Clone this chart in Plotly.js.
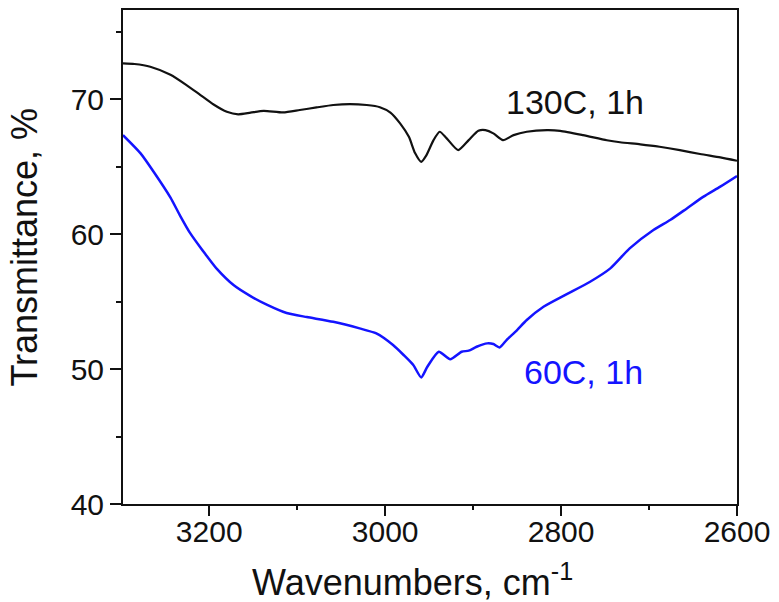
<!DOCTYPE html>
<html>
<head>
<meta charset="utf-8">
<script src="https://cdn.plot.ly/plotly-3.0.1.min.js"></script>
<style>
  html, body { margin: 0; padding: 0; background: #ffffff; }
  #chart { width: 779px; height: 602px; }
</style>
</head>
<body>
<div id="chart"></div>
<script>
// FTIR spectra in the C-H stretching region, two curing conditions
const wn130 = [3298, 3285, 3267, 3244, 3225, 3210, 3195, 3180, 3167, 3153, 3138, 3116, 3097, 3078,
  3059, 3040, 3021, 3006, 2994, 2983, 2973, 2966, 2959, 2953, 2945, 2938, 2930, 2917, 2905,
  2894, 2886, 2877, 2866, 2854, 2839, 2816, 2801, 2775, 2748, 2733, 2710, 2688, 2665, 2642,
  2619, 2600];
const t130 = [72.65, 72.6, 72.4, 71.8, 71.0, 70.3, 69.6, 69.06, 68.87, 68.99, 69.13, 69.01, 69.19, 69.38,
  69.56, 69.63, 69.56, 69.4, 69.0, 68.2, 67.2, 66.0, 65.35, 65.85, 66.96, 67.58, 67.09, 66.22, 66.96,
  67.65, 67.7, 67.46, 66.96, 67.33, 67.58, 67.7, 67.65, 67.33, 66.95, 66.8, 66.65, 66.47, 66.22, 65.93,
  65.68, 65.43];

const wn60 = [3298, 3278, 3263, 3244, 3233, 3222, 3210, 3203, 3191, 3172, 3153, 3134, 3112, 3089,
  3059, 3029, 3010, 2991, 2979, 2968, 2959, 2952, 2939, 2926, 2913, 2905, 2896, 2884, 2877,
  2870, 2862, 2850, 2839, 2820, 2794, 2767, 2744, 2722, 2695, 2676, 2657, 2638, 2619, 2600];
const t60 = [67.33, 65.98, 64.6, 62.7, 61.35, 60.1, 59.0, 58.4, 57.4, 56.2, 55.4, 54.75, 54.15, 53.85,
  53.5, 53.01, 52.64, 51.78, 51.04, 50.3, 49.38, 50.17, 51.28, 50.72, 51.28, 51.36, 51.65, 51.9, 51.85,
  51.6, 52.15, 52.89, 53.63, 54.61, 55.53, 56.47, 57.46, 58.94, 60.3, 61.04, 61.9, 62.77, 63.51,
  64.3];

const label130 = '130C, 1h';
const label60 = '60C, 1h';
const xTitle = 'Wavenumbers, cm<sup>-1</sup>';
const yTitle = 'Transmittance, %';

const FONT = 'Arial, "Liberation Sans", sans-serif';
const INK = '#111111';
const BLUE = 'rgb(20,20,255)';
const X_RANGE = [3298, 2600];

const traces = [
  {
    x: wn130, y: t130, type: 'scatter', mode: 'lines', name: label130,
    line: { color: INK, width: 2.2, shape: 'spline', smoothing: 0.6 }
  },
  {
    // same range as the main x axis; this axis carries the tick marks
    x: wn60, y: t60, xaxis: 'x2', type: 'scatter', mode: 'lines', name: label60,
    line: { color: BLUE, width: 2.5, shape: 'spline', smoothing: 0.6 }
  }
];

const tickFont = { family: FONT, size: 30, color: INK };

const layout = {
  width: 779, height: 602,
  margin: { l: 123, r: 42, t: 10, b: 98 },
  paper_bgcolor: '#ffffff', plot_bgcolor: '#ffffff',
  showlegend: false,
  // labelled x axis (frame line + numbers); its tick marks come from xaxis2
  xaxis: {
    range: X_RANGE, tick0: 2600, dtick: 200,
    showline: true, linecolor: INK, linewidth: 2, mirror: true,
    ticks: '', showgrid: false, zeroline: false,
    tickfont: tickFont
  },
  xaxis2: {
    range: X_RANGE, tick0: 2600, dtick: 200, overlaying: 'x', anchor: 'y', side: 'bottom',
    showline: false, showticklabels: false, showgrid: false, zeroline: false,
    ticks: 'outside', ticklen: 11, tickwidth: 2, tickcolor: INK,
    minor: { dtick: 100, ticks: 'outside', ticklen: 5, tickwidth: 2, tickcolor: INK }
  },
  yaxis: {
    range: [40, 76.6], tick0: 40, dtick: 10,
    showline: true, linecolor: INK, linewidth: 2, mirror: true,
    ticks: 'outside', ticklen: 11, tickwidth: 2, tickcolor: INK,
    showgrid: false, zeroline: false,
    tickfont: tickFont,
    minor: { dtick: 5, ticks: 'outside', ticklen: 5, tickwidth: 2, tickcolor: INK }
  },
  annotations: [
    // axis titles, placed as free text beside the axes
    { x: 0.4707, y: -0.1032, xref: 'paper', yref: 'paper', xanchor: 'center', yanchor: 'top',
      text: xTitle, showarrow: false, font: { family: FONT, size: 36, color: INK } },
    { x: -0.1596, y: 0.519, xref: 'paper', yref: 'paper', xanchor: 'center', yanchor: 'middle',
      textangle: -90, text: yTitle, showarrow: false, font: { family: FONT, size: 36, color: INK } },
    // curve labels
    { x: 2784, y: 69.78, xref: 'x', yref: 'y', text: label130, showarrow: false,
      font: { family: FONT, size: 34, color: INK } },
    { x: 2774, y: 49.78, xref: 'x', yref: 'y', text: label60, showarrow: false,
      font: { family: FONT, size: 34, color: BLUE } }
  ]
};

Plotly.newPlot('chart', traces, layout, { displayModeBar: false, staticPlot: true });
</script>
</body>
</html>
